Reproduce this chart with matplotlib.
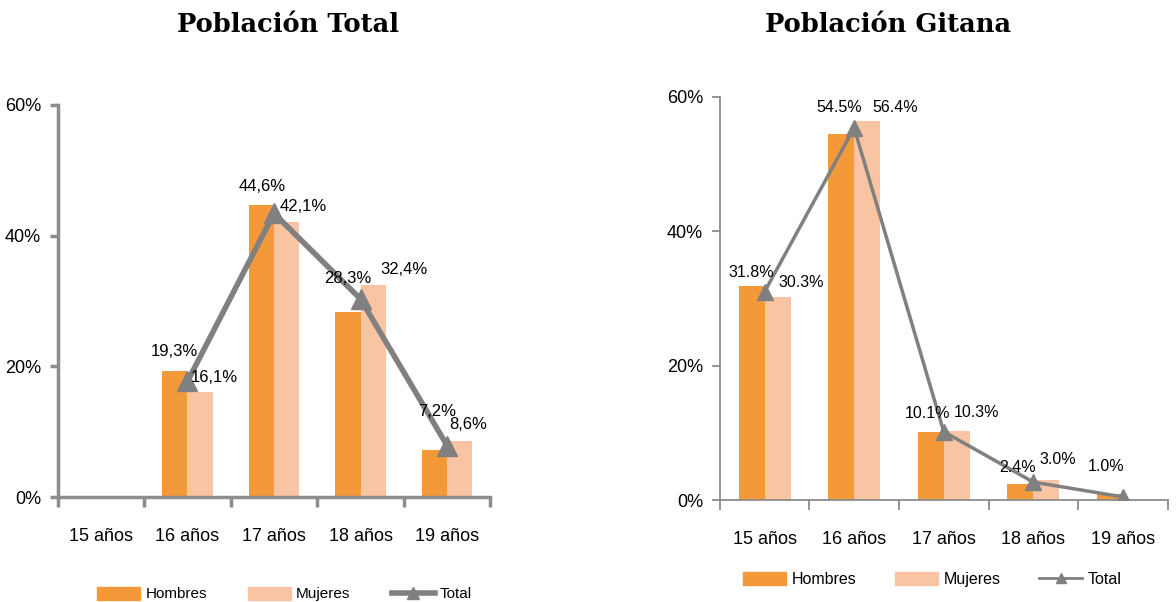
import numpy as np
import matplotlib
matplotlib.use("Agg")
import matplotlib.pyplot as plt
from matplotlib.lines import Line2D
from matplotlib.patches import Patch

plt.rcParams['font.family'] = ['Liberation Sans Narrow', 'Liberation Sans', 'DejaVu Sans']

categories = ["15 años", "16 años", "17 años", "18 años", "19 años"]

# Población Total (None = sin dato)
total_hombres = [None, 19.3, 44.6, 28.3, 7.2]
total_mujeres = [None, 16.1, 42.1, 32.4, 8.6]
total_total = [None, 17.7, 43.4, 30.3, 7.9]

# Población Gitana
gitana_hombres = [31.8, 54.5, 10.1, 2.4, 1.0]
gitana_mujeres = [30.3, 56.4, 10.3, 3.0, None]
gitana_total = [31.0, 55.4, 10.2, 2.7, 0.5]

c_h = "#F4993A"
c_m = "#F9C4A4"
c_line = "#808080"
c_axis = "#8C8C8C"

# label offsets in pixels (dx, dy) from top centre of each bar
off_left_h = [(0, 0), (-1, 19), (1, 19), (0, 34), (3, 39)]
off_left_m = [(0, 0), (14, 14), (17, 15), (31, 16), (9, 16)]
off_right_h = [(0, 14), (-2, 26), (-3, 19), (-3, 17), (-4, 27)]
off_right_m = [(24, 14), (28, 14), (20, 19), (11, 21), (0, 0)]

fig = plt.figure(figsize=(11.76, 6.02), dpi=100)
ax1 = fig.add_axes([0.049, 0.174, 0.368, 0.652])
ax2 = fig.add_axes([0.612, 0.169, 0.381, 0.670])

w = 0.29


def draw(ax, hom, muj, tot, offs_h, offs_m, dec, lw, ms, axlw, fs_lab, fs_tick):
    x = np.arange(len(categories))
    for i in range(len(categories)):
        if hom[i] is not None:
            ax.bar(x[i] - w / 2, hom[i] / 100, w, color=c_h, zorder=2)
            ax.annotate(f"{hom[i]:.1f}%".replace(".", dec), (x[i] - w / 2, hom[i] / 100),
                        xytext=offs_h[i], textcoords="offset pixels",
                        ha="center", va="center", fontsize=fs_lab, zorder=5)
        if muj[i] is not None:
            ax.bar(x[i] + w / 2, muj[i] / 100, w, color=c_m, zorder=2)
            ax.annotate(f"{muj[i]:.1f}%".replace(".", dec), (x[i] + w / 2, muj[i] / 100),
                        xytext=offs_m[i], textcoords="offset pixels",
                        ha="center", va="center", fontsize=fs_lab, zorder=5)
    tx = [x[i] for i in range(len(tot)) if tot[i] is not None]
    ty = [tot[i] / 100 for i in range(len(tot)) if tot[i] is not None]
    ax.plot(tx, ty, color=c_line, lw=lw, marker="^", ms=ms, zorder=4)
    ax.set_xlim(-0.5, len(categories) - 0.5)
    ax.set_ylim(0, 0.6)
    ax.set_yticks([0, 0.2, 0.4, 0.6])
    ax.set_yticklabels(["0%", "20%", "40%", "60%"], fontsize=fs_tick)
    ax.set_xticks(x)
    ax.set_xticklabels(categories, fontsize=fs_tick)
    ax.set_xticks(np.arange(-0.5, len(categories)), minor=True)
    ax.tick_params(axis="x", which="major", length=0, pad=22)
    ax.tick_params(axis="x", which="minor", length=7, width=axlw, color=c_axis)
    ax.tick_params(axis="y", length=6, width=axlw, color=c_axis, pad=6)
    for s in ["top", "right"]:
        ax.spines[s].set_visible(False)
    for s in ["left", "bottom"]:
        ax.spines[s].set_color(c_axis)
        ax.spines[s].set_linewidth(axlw)


draw(ax1, total_hombres, total_mujeres, total_total, off_left_h, off_left_m, ",",
     4, 14, 2.5, 12, 13)
draw(ax2, gitana_hombres, gitana_mujeres, gitana_total, off_right_h, off_right_m, ".",
     2.5, 11, 1.3, 11.5, 13)

fig.text(0.245, 0.96, "Población Total", ha="center", va="center",
         fontsize=18.5, fontweight="bold", family="DejaVu Serif")
fig.text(0.755, 0.96, "Población Gitana", ha="center", va="center",
         fontsize=18.5, fontweight="bold", family="DejaVu Serif")

labels = ["Hombres", "Mujeres", "Total"]
handles = [Patch(color=c_h), Patch(color=c_m),
           Line2D([], [], color=c_line, lw=4, marker="^", ms=8)]
fig.legend(handles, labels, loc="center", bbox_to_anchor=(0.242, 0.013), ncol=3,
           frameon=False, fontsize=11, handlelength=2.8, handleheight=0.9,
           columnspacing=2.7, handletextpad=0.35)
handles2 = [Patch(color=c_h), Patch(color=c_m),
            Line2D([], [], color=c_line, lw=2, marker="^", ms=7)]
fig.legend(handles2, labels, loc="center", bbox_to_anchor=(0.793, 0.037), ncol=3,
           frameon=False, fontsize=11.5, handlelength=2.7, handleheight=0.9,
           columnspacing=2.4, handletextpad=0.35)

fig.savefig("out.png", dpi=100)
